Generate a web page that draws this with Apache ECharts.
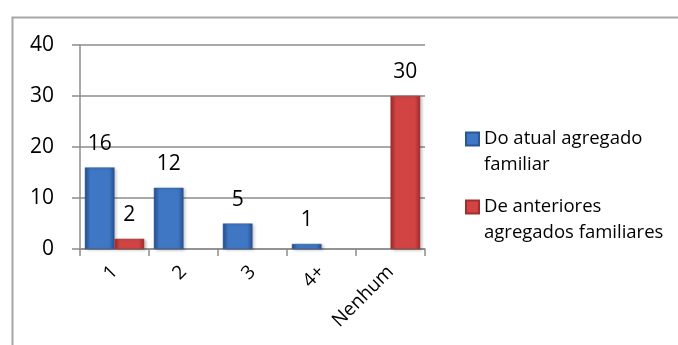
<!DOCTYPE html>
<html>
<head>
<meta charset="utf-8">
<script src="https://cdn.jsdelivr.net/npm/echarts@6/dist/echarts.min.js"></script>
<style>
  html, body { margin: 0; padding: 0; background: #ffffff; }
  #chart { width: 678px; height: 345px; }
</style>
</head>
<body>
<div id="chart"></div>
<script>
// Number of children per household group
const categories = ['1', '2', '3', '4+', 'Nenhum'];
const seriesNames = ['Do atual agregado\nfamiliar', 'De anteriores\nagregados familiares'];
const atualValues = [16, 12, 5, 1, null];
const anterioresValues = [2, null, null, null, 30];
const yTicks = [0, 10, 20, 30, 40];

const FONT = 'Open Sans';

function barGradient(edge, mid) {
  return new echarts.graphic.LinearGradient(0, 0, 1, 0, [
    { offset: 0, color: edge },
    { offset: 0.18, color: mid },
    { offset: 0.82, color: mid },
    { offset: 1, color: edge }
  ]);
}

const chart = echarts.init(document.getElementById('chart'), null, { renderer: 'canvas' });

const labelStyle = {
  show: true,
  position: 'top',
  distance: 13,
  color: '#000000',
  fontFamily: FONT,
  fontSize: 21
};

chart.setOption({
  animation: false,
  backgroundColor: '#ffffff',
  graphic: [{
    type: 'rect',
    left: 10,
    top: 15,
    shape: { width: 720, height: 400 },
    style: { fill: 'none', stroke: '#a6a6a6', lineWidth: 2 },
    silent: true,
    z: -10
  }],
  grid: { left: 80, right: 253, top: 45, bottom: 96, containLabel: false },
  legend: {
    left: 465,
    top: 100,
    orient: 'vertical',
    padding: 0,
    itemGap: -10,
    itemWidth: 13,
    itemHeight: 13,
    icon: 'rect',
    // a blank leading line keeps the marker level with the first text line
    formatter: name => ' \n' + name,
    textStyle: {
      fontFamily: FONT,
      fontSize: 18.5,
      color: '#000000',
      lineHeight: 26
    },
    data: seriesNames
  },
  xAxis: {
    type: 'category',
    data: categories,
    axisLine: { show: true, lineStyle: { color: '#8c8c8c', width: 1.5 } },
    axisTick: { show: true, length: 7, alignWithLabel: false, lineStyle: { color: '#8c8c8c', width: 1.5 } },
    axisLabel: {
      rotate: 45,
      margin: 20,
      color: '#000000',
      fontFamily: FONT,
      fontSize: 19
    }
  },
  yAxis: {
    type: 'value',
    min: yTicks[0],
    max: yTicks[yTicks.length - 1],
    interval: 10,
    axisLine: { show: true, lineStyle: { color: '#8c8c8c', width: 1.5 } },
    axisTick: { show: true, length: 8, inside: false, lineStyle: { color: '#8c8c8c', width: 1.5 } },
    splitLine: { show: true, lineStyle: { color: '#8c8c8c', width: 1.5 } },
    axisLabel: {
      margin: 26,
      color: '#000000',
      fontFamily: FONT,
      fontSize: 21
    }
  },
  series: [
    {
      name: seriesNames[0],
      type: 'bar',
      data: atualValues,
      barGap: '0%',
      barCategoryGap: '14%',
      itemStyle: {
        color: barGradient('#264f8e', '#3f77c4'),
        borderColor: '#2a5596',
        borderWidth: 0.5,
        shadowBlur: 3,
        shadowOffsetX: 2,
        shadowOffsetY: 1,
        shadowColor: 'rgba(0,0,0,0.25)'
      },
      label: labelStyle
    },
    {
      name: seriesNames[1],
      type: 'bar',
      data: anterioresValues,
      barGap: '0%',
      barCategoryGap: '14%',
      itemStyle: {
        color: barGradient('#9e2a2a', '#d24444'),
        borderColor: '#a32e2e',
        borderWidth: 0.5,
        shadowBlur: 3,
        shadowOffsetX: 2,
        shadowOffsetY: 1,
        shadowColor: 'rgba(0,0,0,0.25)'
      },
      label: labelStyle
    }
  ]
});
</script>
</body>
</html>
